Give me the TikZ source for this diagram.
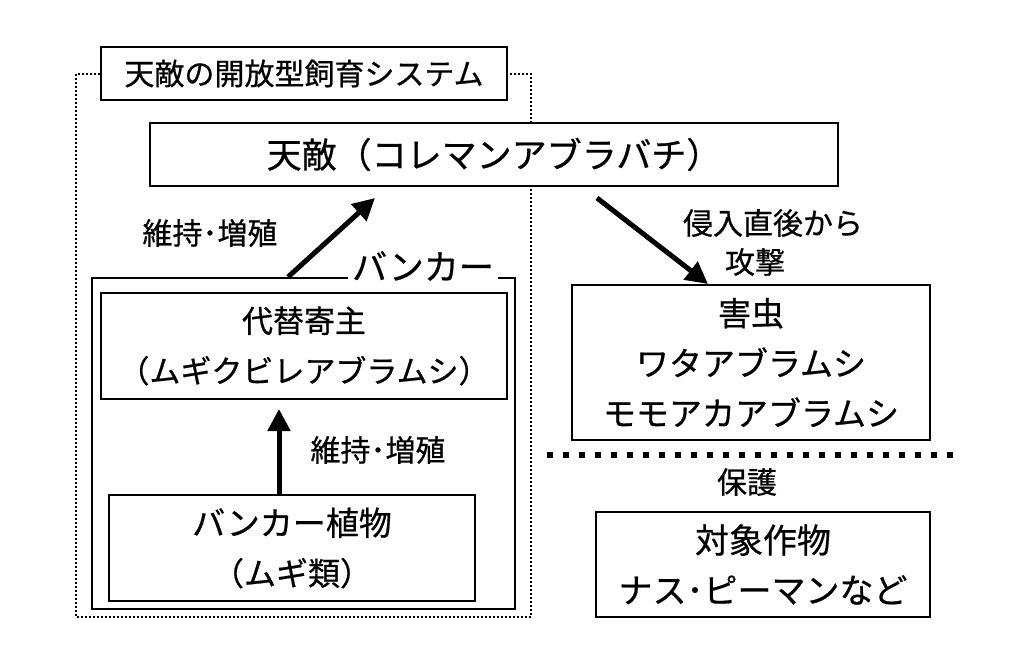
\documentclass[tikz,border=0pt]{standalone}
\usepackage{fontspec}
\setmainfont{Noto Sans CJK JP}[FakeBold=0.6]
\usetikzlibrary{arrows.meta}
\tikzset{
  box/.style={draw, line width=2pt, fill=white, inner sep=0pt, align=center},
  lbl/.style={inner sep=0pt, align=center},
  arr/.style={line width=5pt, -{Triangle[length=22pt,width=22pt]}},
  outerdot/.style={line width=2pt, dash pattern=on 2pt off 2pt},
  sepdot/.style={line width=6pt, dash pattern=on 6pt off 10pt},
  fs/.style={font=\fontsize{#1}{50}\selectfont}
}
\begin{document}
\begin{tikzpicture}[x=1pt,y=-1pt]
\useasboundingbox (0,0) rectangle (1010,671);
% outer dotted frame
\draw[outerdot] (76,74) rectangle (531,617);
% title of frame
\node[box, fs=30, minimum width=406pt, minimum height=53pt] (title) at (304,73.5) {天敵の開放型飼育システム};
% natural enemy
\node[box, fs=35, minimum width=688pt, minimum height=63pt] (teki) at (494,154.5) {天敵（コレマンアブラバチ）};
% bunker frame
\node[draw, line width=2pt, inner sep=0pt, minimum width=423pt, minimum height=331pt] (bunker) at (303.5,443.5) {};
\node[lbl, fill=white, fs=35, inner sep=4pt] (bunkerlbl) at (423,266) {バンカー};
% host
\node[box, fs=31, minimum width=406pt, minimum height=106pt] (host) at (304,346) {代替寄主\\（ムギクビレアブラムシ）};
% bunker plant
\node[box, fs=32, minimum width=366pt, minimum height=106pt] (plant) at (292,548) {\fontsize{33}{53}\selectfont バンカー植物\\（ムギ類）};
% pest
\node[box, fs=33, minimum width=358pt, minimum height=155pt] (pest) at (751,362.5) {害虫\\ワタアブラムシ\\モモアカアブラムシ};
% crop
\node[box, fs=34, minimum width=334pt, minimum height=105pt] (crop) at (763,564.5) {対象作物\\ナス･ピーマンなど};
% labels
\node[lbl, fs=30] (lab1) at (210,233) {維持･増殖};
\node[lbl, fs=30] (lab2) at (378,450) {維持･増殖};
\node[lbl, fs=30] (atk1) at (773,223) {侵入直後から};
\node[lbl, fs=30] (atk2) at (755,262) {攻撃};
\node[lbl, fs=30] (hogo) at (747,482) {保護};
% separator
\draw[sepdot] (547,455) -- (960,455);
% arrows
\draw[arr] ([xshift=-15.5pt]bunker.north) -- ([xshift=-119pt,yshift=-11pt]teki.south);
\draw[arr] ([xshift=-13pt]plant.north) -- ([xshift=-25pt,yshift=-9pt]host.south);
\draw[arr] ([xshift=103pt,yshift=-11pt]teki.south) -- ([xshift=-43pt]pest.north);
\end{tikzpicture}
\end{document}
